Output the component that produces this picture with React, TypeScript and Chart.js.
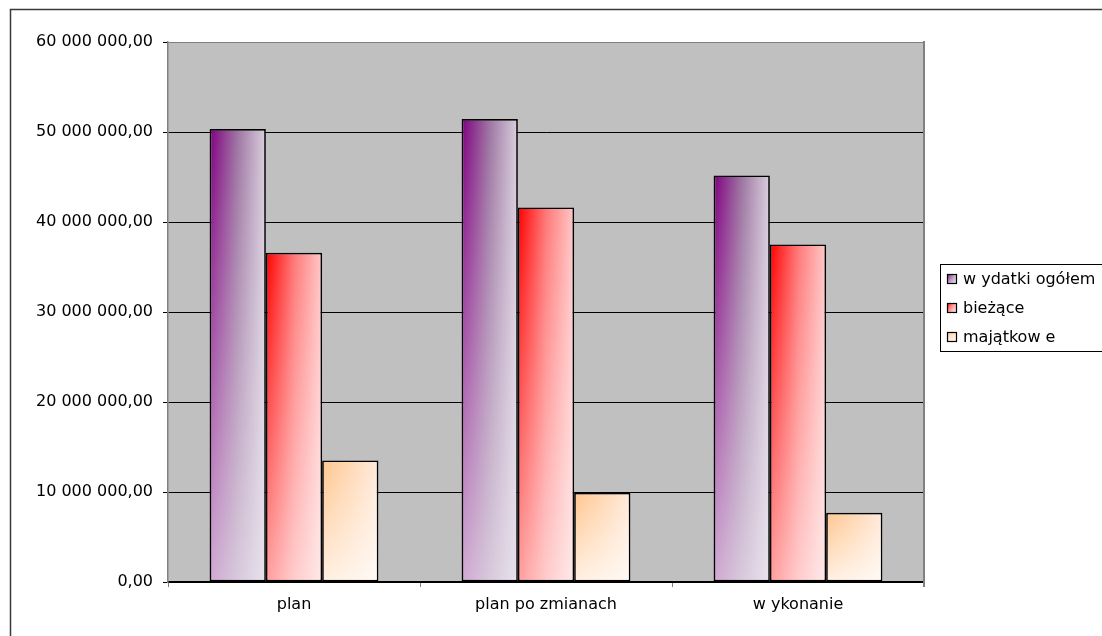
import { useEffect, useRef } from 'react';
import { Chart, registerables } from 'chart.js';

Chart.register(...registerables);

// values
const categories = ['plan', 'plan po zmianach', 'w ykonanie'];
const seriesLabels = ['w ydatki ogółem', 'bieżące', 'majątkow e'];
const wydatkiOgolem = [50330000, 51450000, 45180000];
const biezace = [36570000, 41620000, 37510000];
const majatkowe = [13510000, 9900000, 7700000];
const yMin = 0;
const yMax = 60000000;
const yStep = 10000000;

// horizontal gradient stops per series (left -> right); a light veil fades in toward the bottom
const seriesStops: [number, string][][] = [
	[[0, '#800080'], [0.5, '#9e76a2'], [1, '#d9cfdd']],
	[[0, '#ff0000'], [0.5, '#ff7878'], [1, '#ffc8c8']],
	[[0, '#ffc690'], [0.5, '#ffd8b4'], [1, '#ffeadb']],
];
const veilColor = ['238,234,242', '255,255,255', '255,255,255'];
const veilAlpha = [0.72, 0.62, 0.72];

const FONT = 'DejaVu Sans';

function formatPl(v: number) {
	const s = Math.round(v).toString().replace(/\B(?=(\d{3})+(?!\d))/g, ' ');
	return s + ',00';
}

function horizontal(ctx: CanvasRenderingContext2D, x0: number, w: number, stops: [number, string][]) {
	const g = ctx.createLinearGradient(x0, 0, x0 + w, 0);
	stops.forEach(([o, c]) => g.addColorStop(o, c));
	return g;
}

function veil(ctx: CanvasRenderingContext2D, x: number, y: number, w: number, h: number, rgb: string, alpha: number) {
	const g = ctx.createLinearGradient(0, y, 0, y + h);
	g.addColorStop(0, `rgba(${rgb},0)`);
	g.addColorStop(1, `rgba(${rgb},${alpha})`);
	ctx.fillStyle = g;
	ctx.fillRect(x, y, w, h);
}

const plotFrame = {
	id: 'plotFrame',
	beforeDraw(chart: any) {
		const { ctx, chartArea } = chart;
		ctx.save();
		ctx.fillStyle = '#ffffff';
		ctx.fillRect(0, 0, chart.width, chart.height);
		// outer chart border (runs off the right / bottom)
		ctx.strokeStyle = '#3a3a3a';
		ctx.lineWidth = 1.5;
		ctx.strokeRect(10.5, 9.5, 3000, 3000);
		ctx.fillStyle = '#c0c0c0';
		ctx.fillRect(chartArea.left, chartArea.top, chartArea.right - chartArea.left, chartArea.bottom - chartArea.top);
		ctx.restore();
	},
	beforeDatasetsDraw(chart: any) {
		const { ctx, chartArea } = chart;
		ctx.save();
		ctx.strokeStyle = '#808080';
		ctx.lineWidth = 2;
		ctx.beginPath();
		ctx.moveTo(chartArea.right, chartArea.top - 1);
		ctx.lineTo(chartArea.right, chartArea.bottom + 5);
		ctx.stroke();
		ctx.restore();

		chart.data.datasets.forEach((_ds: any, di: number) => {
			const meta = chart.getDatasetMeta(di);
			meta.data.forEach((el: any) => {
				const { x, width } = el.getProps(['x', 'width'], true);
				const g = horizontal(ctx, x - width / 2, width, seriesStops[di]);
				el.options = { ...el.options, backgroundColor: g };
			});
		});
	},
	afterDatasetsDraw(chart: any) {
		const { ctx } = chart;
		ctx.save();
		chart.data.datasets.forEach((_ds: any, di: number) => {
			const meta = chart.getDatasetMeta(di);
			meta.data.forEach((el: any) => {
				const { x, y, base, width } = el.getProps(['x', 'y', 'base', 'width'], true);
				const bw = el.options.borderWidth || 0;
				const top = Math.min(y, base) + bw;
				const h = Math.abs(base - y) - 2 * bw;
				veil(ctx, x - width / 2 + bw, top, width - 2 * bw, h, veilColor[di], veilAlpha[di]);
			});
		});
		ctx.restore();
	},
};

const boxLegend = {
	id: 'boxLegend',
	afterDraw(chart: any) {
		const { ctx } = chart;
		const left = 940;
		const top = 264;
		const rowH = 29;
		ctx.save();
		ctx.strokeStyle = '#000000';
		ctx.lineWidth = 1;
		ctx.fillStyle = '#ffffff';
		ctx.fillRect(left + 0.5, top + 0.5, 400, rowH * 3);
		ctx.strokeRect(left + 0.5, top + 0.5, 400, rowH * 3);
		ctx.font = `16px "${FONT}"`;
		ctx.textBaseline = 'middle';
		chart.data.datasets.forEach((ds: any, i: number) => {
			const cy = top + 15 + i * rowH;
			const sx = left + 7;
			const sy = cy - 5;
			ctx.fillStyle = horizontal(ctx, sx, 10, seriesStops[i]);
			ctx.fillRect(sx, sy, 10, 10);
			veil(ctx, sx, sy, 10, 10, veilColor[i], veilAlpha[i]);
			ctx.lineWidth = 1.2;
			ctx.strokeStyle = '#000';
			ctx.strokeRect(sx + 0.5, sy + 0.5, 9, 9);
			ctx.fillStyle = '#000';
			ctx.fillText(ds.label, left + 23, cy + 1);
		});
		ctx.restore();
	},
};

export default function App() {
	const canvasRef = useRef<HTMLCanvasElement>(null);

	useEffect(() => {
		document.body.style.margin = '0';
		document.body.style.overflow = 'hidden';
		if (!canvasRef.current) return;

		const seriesValues = [wydatkiOgolem, biezace, majatkowe];

		const chart = new Chart(canvasRef.current, {
			type: 'bar',
			data: {
				labels: categories,
				datasets: seriesValues.map((vals, i) => ({
					label: seriesLabels[i],
					data: vals,
					backgroundColor: () => '#cccccc',
					borderColor: '#000000',
					borderWidth: 1.7,
					borderSkipped: false,
					categoryPercentage: 0.67,
					barPercentage: 1,
				})),
			},
			options: {
				animation: false,
				responsive: true,
				maintainAspectRatio: false,
				layout: {
					padding: { top: 42, right: 178, left: 0, bottom: 0 },
				},
				plugins: {
					legend: { display: false },
					tooltip: { enabled: false },
				},
				scales: {
					x: {
						offset: true,
						afterFit: (s: any) => {
							s.height = 54;
						},
						grid: {
							display: true,
							offset: true,
							drawOnChartArea: false,
							drawTicks: true,
							tickLength: 5,
							tickColor: '#808080',
						},
						border: { color: '#000000', width: 1.5 },
						ticks: {
							color: '#000000',
							padding: 8,
							font: { family: FONT, size: 16 },
						},
					},
					y: {
						min: yMin,
						max: yMax,
						afterFit: (s: any) => {
							s.width = 168;
						},
						grid: {
							color: (c: any) => (c.tick && c.tick.value === yMax ? '#808080' : '#000000'),
							lineWidth: 1,
							drawTicks: true,
							tickLength: 5,
							tickColor: '#000000',
						},
						border: { color: '#808080', width: 1.5 },
						ticks: {
							stepSize: yStep,
							color: '#000000',
							padding: 10,
							font: { family: FONT, size: 16 },
							callback: (v: any) => formatPl(Number(v)),
						},
					},
				},
			},
			plugins: [plotFrame, boxLegend],
		});

		return () => {
			chart.destroy();
		};
	}, []);

	return (
		<div style={{ width: '1102px', height: '636px', position: 'relative' }}>
			<canvas ref={canvasRef}></canvas>
		</div>
	);
}
